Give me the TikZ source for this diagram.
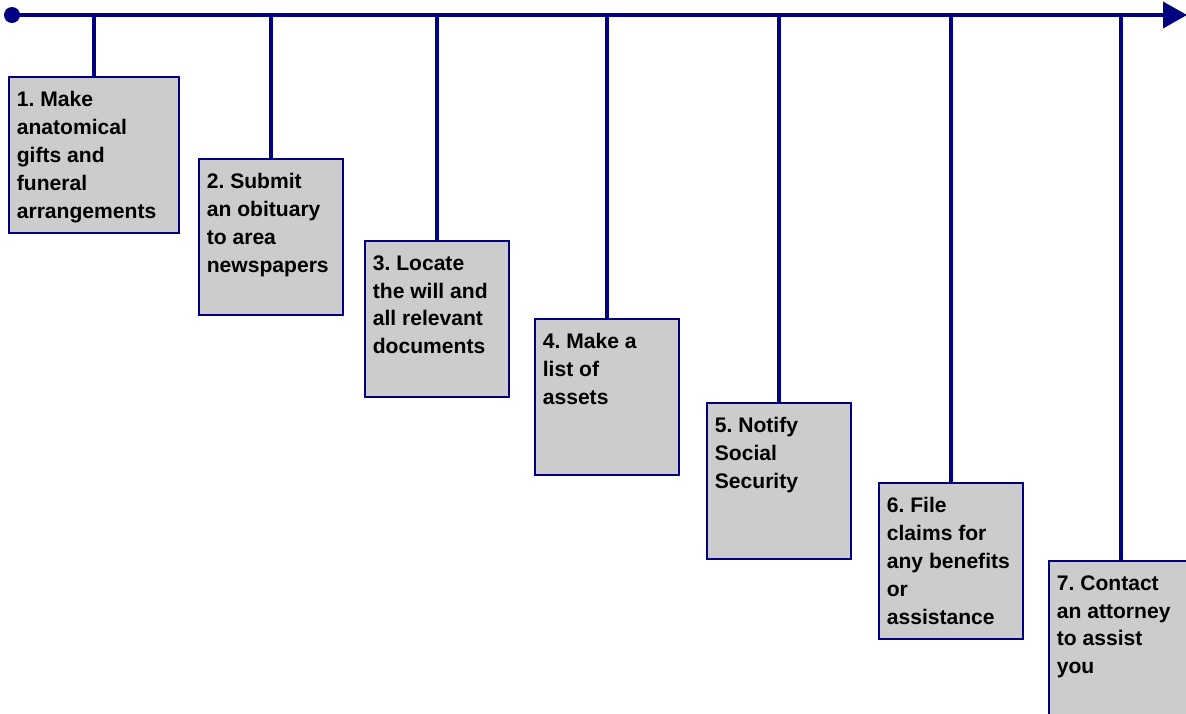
\documentclass[tikz,border=0pt]{standalone}
\usepackage{fontspec}
\setmainfont{Liberation Sans}
\usetikzlibrary{arrows.meta}
\definecolor{lineblue}{HTML}{000080}
\definecolor{boxgray}{HTML}{CCCCCC}
\frenchspacing
\tikzset{
  stepbox/.style={draw=lineblue, fill=boxgray, line width=1.1pt, anchor=north west,
    minimum width=2.88cm, minimum height=3.12cm, inner sep=0pt},
  steptext/.style={anchor=north west, inner sep=0pt, align=left, xshift=0.17cm, yshift=-0.3cm,
    font=\fontsize{12}{15.9}\selectfont\bfseries},
  stem/.style={draw=lineblue, line width=2.1pt}
}

\begin{document}
\begin{tikzpicture}[x=0.02cm, y=-0.02cm]
    \clip (0,0) rectangle (1186,713);

    \node[circle, fill=lineblue, inner sep=0pt, minimum size=0.32cm] (start) at (12,15) {};
    \coordinate (end) at (1187,15);

    \node[stepbox, minimum width=3.4cm, label={[steptext]north west:{1. Make\\anatomical\\gifts and\\funeral\\arrangements}}] (s1) at (8,76) {};
    \node[stepbox, label={[steptext]north west:{2. Submit\\an obituary\\to area\\newspapers}}] (s2) at (198,158) {};
    \node[stepbox, label={[steptext]north west:{3. Locate\\the will and\\all relevant\\documents}}] (s3) at (364,240) {};
    \node[stepbox, label={[steptext]north west:{4. Make a\\list of\\assets}}] (s4) at (534,318) {};
    \node[stepbox, label={[steptext]north west:{5. Notify\\Social\\Security}}] (s5) at (706,402) {};
    \node[stepbox, label={[steptext]north west:{6. File\\claims for\\any benefits\\or\\assistance}}] (s6) at (878,482) {};
    \node[stepbox, label={[steptext]north west:{7. Contact\\an attorney\\to assist\\you}}] (s7) at (1048,560) {};

    \draw[stem, -{Triangle[length=0.48cm, width=0.52cm]}] (start.center) -- (end);
    \foreach \s in {s1,s2,s3,s4,s5,s6,s7}
      \draw[stem] (\s.north |- start) -- (\s.north);

\end{tikzpicture}
\end{document}
